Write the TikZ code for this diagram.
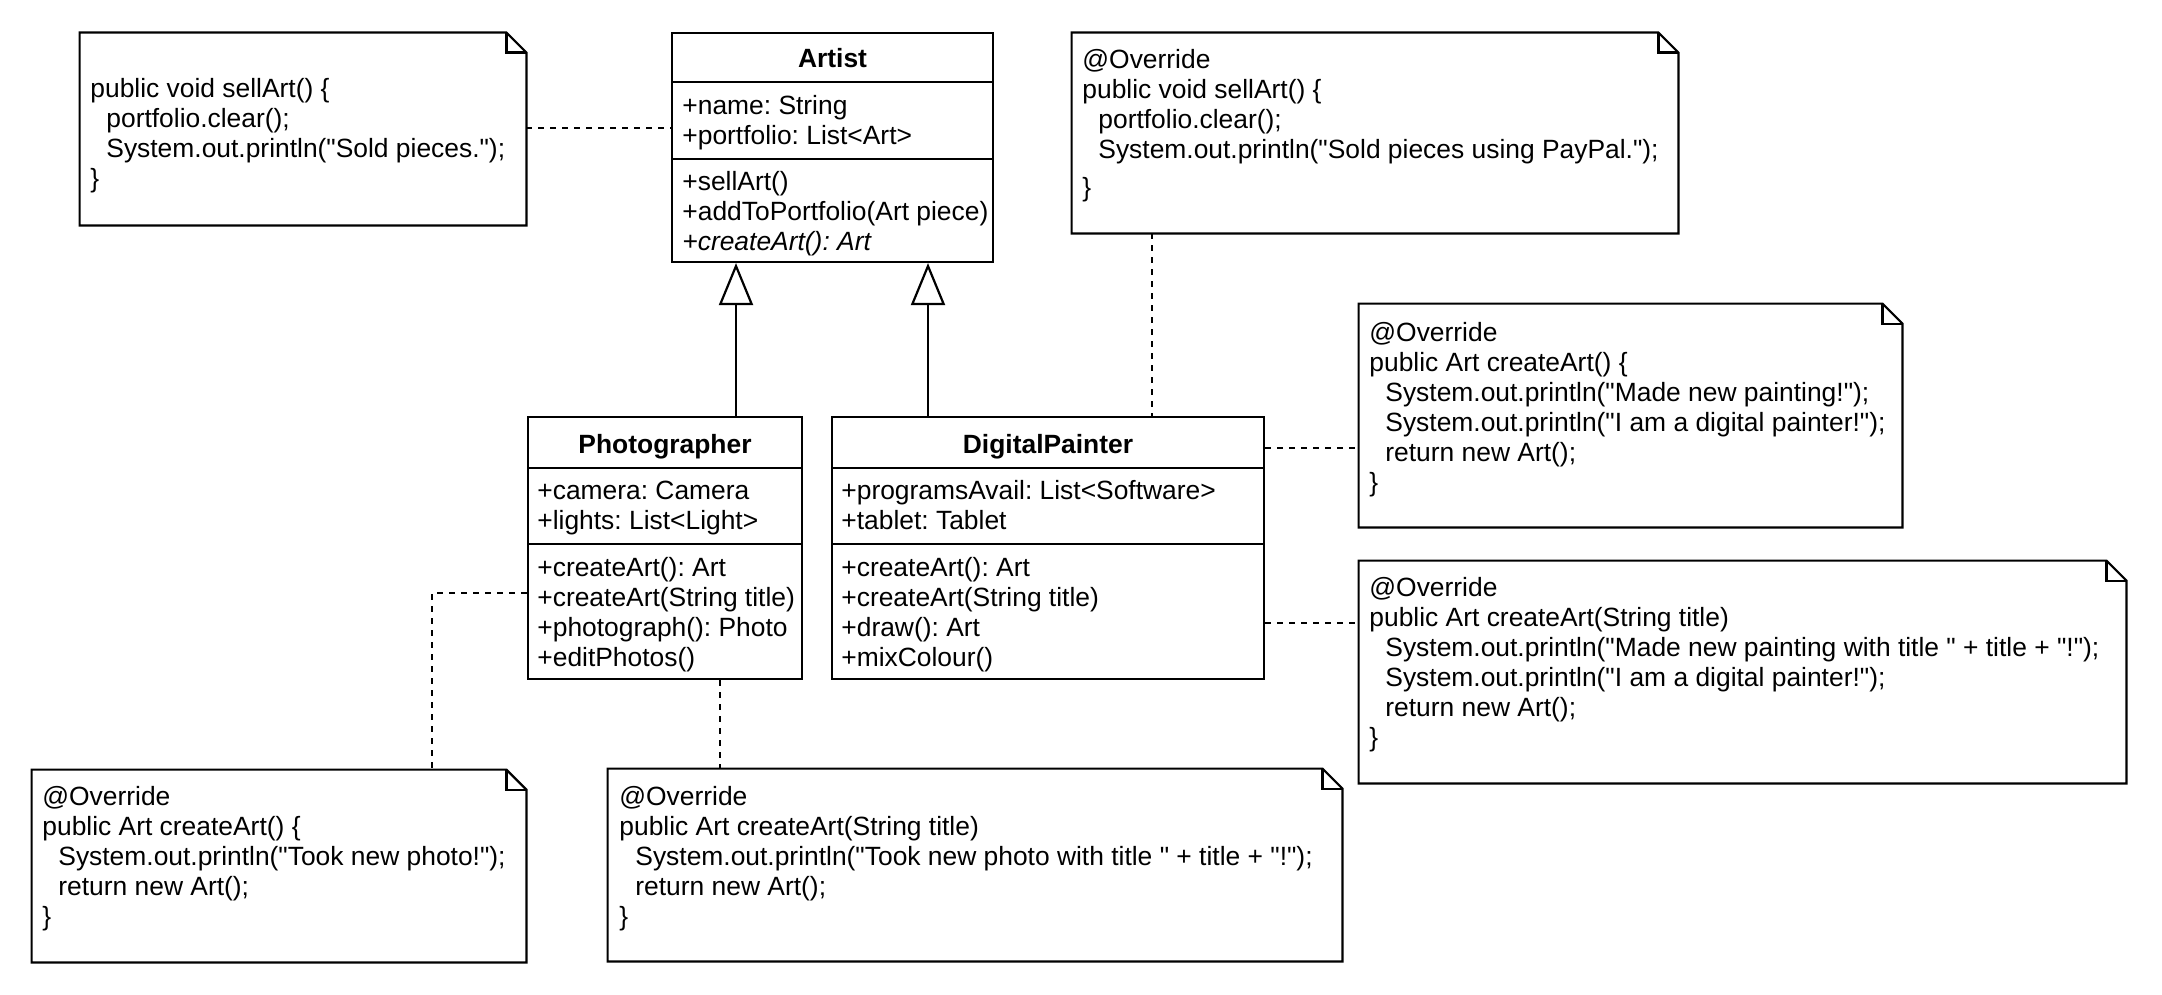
\documentclass[tikz,border=0pt]{standalone}
\usepackage{fontspec}
\setmainfont{Liberation Sans}[Ligatures=TeXOff]
\usetikzlibrary{arrows.meta,fit}

\newcommand\codefont{\fontsize{13.2}{15}\selectfont\frenchspacing}
\newcommand\ind{\hspace*{8pt}}

% multi-line text nodes are placed by the baseline of their last line
\tikzset{
  classbox/.style={draw, line width=1.1pt, inner sep=0pt},
  notearea/.style={inner sep=0pt},
  txt/.style={anchor=base west, inner sep=0pt, align=left, font=\codefont},
  ttl/.style={anchor=base, inner sep=0pt, font=\codefont\bfseries},
  sepline/.style={line width=1.1pt},
  noteline/.style={line width=1.1pt, line join=miter},
  dashline/.style={line width=1pt, dash pattern=on 3pt off 3pt},
  inherit/.style={line width=1.1pt, -{Triangle[open, length=21pt, width=17pt, line width=1.1pt]}}
}

% outline of a UML note with a folded top-right corner
\newcommand\dogear[1]{%
  \draw[noteline] (#1.north west) -- ([xshift=-10pt]#1.north east) -- ([yshift=-10pt]#1.north east)
    -- (#1.south east) -- (#1.south west) -- cycle;
  \draw[noteline] ([xshift=-10pt]#1.north east) -- ([xshift=-10pt,yshift=-10pt]#1.north east)
    -- ([yshift=-10pt]#1.north east);
}

\begin{document}
\begin{tikzpicture}[x=0.5pt,y=-0.5pt]
\fill[white] (0,0) rectangle (2162,995);
\useasboundingbox (0,0) rectangle (2162,995);

% ---------- classes ----------
\node[classbox, fit={(672,33) (993,262)}] (artist) {};
\draw[sepline] (672,82) -- (993,82);
\draw[sepline] (672,159) -- (993,159);
\node[ttl] (artist-name) at (832.5,68) {Artist};
\node[txt] (artist-attr) at (682,144) {+name: String\\+portfolio: List<Art>};
\node[txt] (artist-ops) at (682,250) {+sellArt()\\+addToPortfolio(Art piece)\\\textit{+createArt(): Art}};

\node[classbox, fit={(528,417) (802,679)}] (photo) {};
\draw[sepline] (528,468) -- (802,468);
\draw[sepline] (528,544) -- (802,544);
\node[ttl] (photo-name) at (665,453) {Photographer};
\node[txt] (photo-attr) at (537,529) {+camera: Camera\\+lights: List<Light>};
\node[txt] (photo-ops) at (537,666) {+createArt(): Art\\+createArt(String title)\\+photograph(): Photo\\+editPhotos()};

\node[classbox, fit={(832,417) (1264,679)}] (dp) {};
\draw[sepline] (832,468) -- (1264,468);
\draw[sepline] (832,544) -- (1264,544);
\node[ttl] (dp-name) at (1048,453) {DigitalPainter};
\node[txt] (dp-attr) at (841,529) {+programsAvail: List<Software>\\+tablet: Tablet};
\node[txt] (dp-ops) at (841,666) {+createArt(): Art\\+createArt(String title)\\+draw(): Art\\+mixColour()};

% ---------- notes ----------
\node[notearea, fit={(80,33) (526,225)}] (nsell) {};
\dogear{nsell}
\node[txt] (nsell-code) at (90,187) {public void sellArt() \{\\\ind portfolio.clear();\\\ind System.out.println("Sold pieces.");\\\}};

\node[notearea, fit={(1072,33) (1678,233)}] (npaypal) {};
\dogear{npaypal}
\node[txt] (npaypal-code) at (1082,196) {@Override\\public void sellArt() \{\\\ind portfolio.clear();\\\ind System.out.println("Sold pieces using PayPal.");\\[4pt]\}};

\node[notearea, fit={(1359,304) (1902,527)}] (npaint) {};
\dogear{npaint}
\node[txt] (npaint-code) at (1369,491) {@Override\\public Art createArt() \{\\\ind System.out.println("Made new painting!");\\\ind System.out.println("I am a digital painter!");\\\ind return new Art();\\\}};

\node[notearea, fit={(1359,561) (2126,783)}] (npainttitle) {};
\dogear{npainttitle}
\node[txt] (npainttitle-code) at (1369,746) {@Override\\public Art createArt(String title)\\\ind System.out.println("Made new painting with title " + title + "!");\\\ind System.out.println("I am a digital painter!");\\\ind return new Art();\\\}};

\node[notearea, fit={(32,770) (526,962)}] (nphoto) {};
\dogear{nphoto}
\node[txt] (nphoto-code) at (42,925) {@Override\\public Art createArt() \{\\\ind System.out.println("Took new photo!");\\\ind return new Art();\\\}};

\node[notearea, fit={(608,769) (1342,961)}] (nphototitle) {};
\dogear{nphototitle}
\node[txt] (nphototitle-code) at (619,925) {@Override\\public Art createArt(String title)\\\ind System.out.println("Took new photo with title " + title + "!");\\\ind return new Art();\\\}};

% ---------- generalisation ----------
\draw[inherit] (photo.north -| 736,0) -- (artist.south -| 736,0);
\draw[inherit] (dp.north -| 928,0) -- (artist.south -| 928,0);

% ---------- note anchors ----------
\draw[dashline] (nsell.east |- 0,128) -- (artist.west |- 0,128);
\draw[dashline] (npaypal.south -| 1152,0) -- (dp.north -| 1152,0);
\draw[dashline] (dp.east |- 0,448) -- (npaint.west |- 0,448);
\draw[dashline] (dp.east |- 0,623) -- (npainttitle.west |- 0,623);
\draw[dashline] (photo.west |- 0,593) -| (nphoto.north -| 432,0);
\draw[dashline] (photo.south -| 720,0) -- (nphototitle.north -| 720,0);
\end{tikzpicture}
\end{document}
